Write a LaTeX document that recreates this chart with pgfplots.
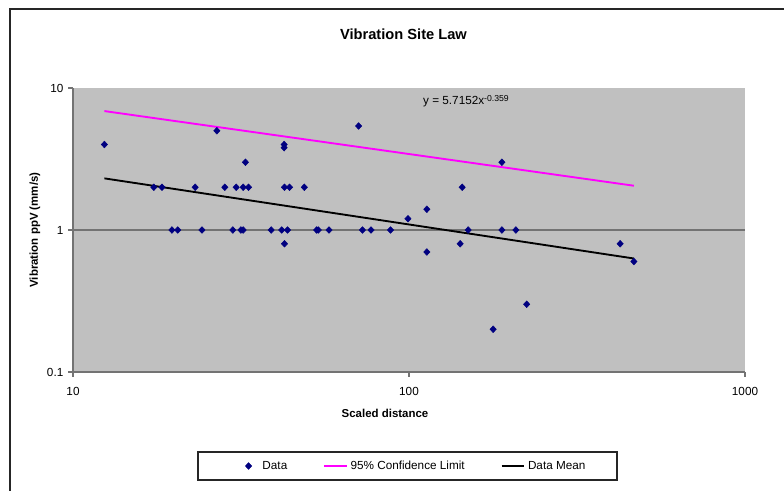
\documentclass[border=0pt]{standalone}
\usepackage{fontspec}
\setmainfont{Liberation Sans}
\usepackage{pgfplots}
\pgfplotsset{compat=1.18}
\definecolor{plotgrey}{RGB}{192,192,192}
\definecolor{navyblue}{RGB}{0,0,128}
\definecolor{mag}{RGB}{255,0,255}
\begin{document}
\begin{tikzpicture}
\path[use as bounding box] (0,0) rectangle (588pt,-368.25pt);
\draw[line width=0.8pt, black!85] (7.5pt,-400pt) -- (7.5pt,-6.75pt) -- (620pt,-6.75pt);
\node[font=\bfseries\fontsize{11}{13}\selectfont] at (302.6pt,-25.5pt) {Vibration Site Law};
\node[font=\bfseries\fontsize{8.6}{10}\selectfont, rotate=90] at (26.25pt,-172.5pt) {Vibration ppV (mm/s)};
\node[font=\bfseries\fontsize{8.6}{10}\selectfont] at (288.75pt,-309.75pt) {Scaled distance};
\begin{axis}[
  at={(54.75pt,-279pt)}, anchor=south west,
  scale only axis, width=504pt, height=213pt,
  xmode=log, ymode=log, xmin=10, xmax=1000, ymin=0.1, ymax=10,
  axis background/.style={fill=plotgrey},
  axis lines=left, axis line style={-, draw=gray!90!black, line width=0.8pt},
  xtick={10,100,1000}, xticklabels={10,100,1000},
  ytick={0.1,1,10}, yticklabels={0.1,1,10},
  tick align=outside, major tick length=3.75pt,
  tick style={gray!90!black, line width=0.8pt},
  minor tick style={draw=none},
  ticklabel style={font=\fontsize{8.8}{10}\selectfont},
  xticklabel style={yshift=-4.5pt},
  /pgf/number format/assume math mode=true,
  legend columns=3,
  legend cell align=left,
  legend style={draw=none, fill=none, inner sep=0pt, at={(0.2545,-0.331)}, anchor=west,
    font=\fontsize{8.8}{10}\selectfont,
    /tikz/every even column/.append style={column sep=25pt}},
]
\addplot[gray!90!black, line width=0.8pt, forget plot] coordinates {(10,1) (1000,1)};
\addplot[only marks, mark=diamond*, mark size=2.5pt, mark options={xscale=1.25}, color=navyblue,
  legend image code/.code={\path (-3pt,0pt) (8.25pt,0pt);
    \path[navyblue] plot[mark=diamond*, mark size=2.5pt, mark options={xscale=1.25}, only marks] coordinates {(0pt,0pt)};}] table {
x y
12.4 4
17.4 2
18.4 2
19.7 1
20.5 1
23.1 2
24.2 1
26.8 5
28.3 2
29.9 1
30.6 2
31.6 1
32.1 1
32.6 3
32.1 2
33.3 2
38.9 1
41.8 1
42.5 4
42.5 3.8
42.6 2
44.1 2
43.5 1
42.6 0.8
48.8 2
53.1 1
53.7 1
57.8 1
70.8 5.4
72.7 1
77.1 1
88.1 1
99.3 1.2
113 1.4
113 0.7
142 0.8
144 2
150 1
178 0.2
189 3
189 1
208 1
224 0.3
425 0.8
467 0.6
};
\addlegendentry{Data}
\addplot[mag, line width=1.4pt, no marks] coordinates {(12.4,6.88) (467,2.05)};
\addlegendentry{95\% Confidence Limit}
\addplot[black, line width=1.4pt, no marks] coordinates {(12.4,2.31) (467,0.63)};
\addlegendentry{Data Mean}
\end{axis}
\draw[line width=0.8pt, black!85] (148.5pt,-339pt) rectangle (462.75pt,-360pt);
\node[font=\fontsize{8.8}{10}\selectfont] at (349.5pt,-75.75pt) {y = 5.7152x\raisebox{0.55ex}{\fontsize{6.5}{7}\selectfont -0.359}};
\end{tikzpicture}
\end{document}
